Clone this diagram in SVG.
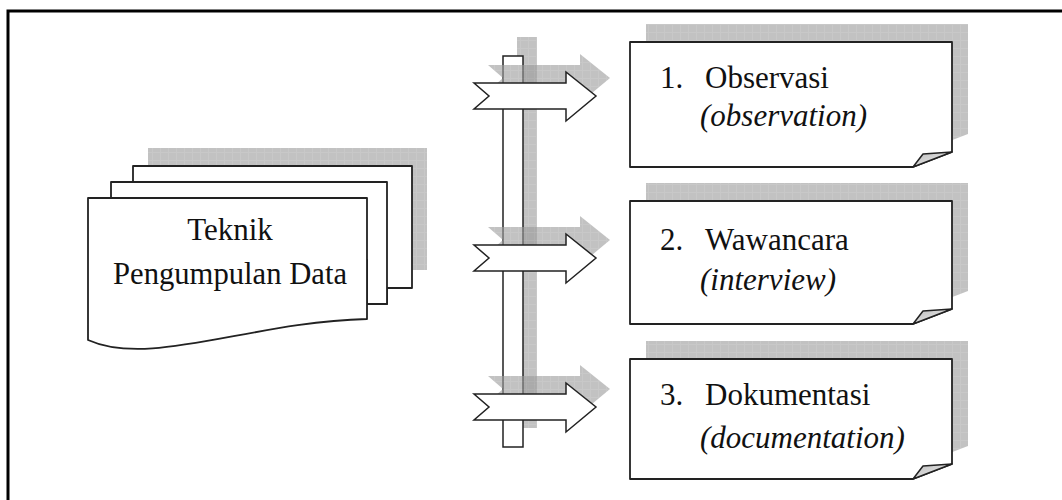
<svg xmlns="http://www.w3.org/2000/svg" width="1062" height="500" viewBox="0 0 1062 500">
<style>
.frame{fill:none;stroke:#000;stroke-width:3}
.shape{fill:#fff;stroke:#222;stroke-width:1.8;stroke-linejoin:round}
.thin{fill:#fff;stroke:#222;stroke-width:1.5;stroke-linejoin:miter}
.shadow{fill:url(#grid);opacity:0.6}
.flap{fill:url(#flapg);stroke:#222;stroke-width:1.5;stroke-linejoin:round}
.t{font-size:31px;fill:#111}
.i{font-style:italic}
</style>
<defs>
<pattern id="grid" width="8" height="8" patternUnits="userSpaceOnUse">
<rect width="8" height="8" fill="#9a9a9a"/>
<path d="M0,0.5H8M0.5,0V8" stroke="#a3a3a3" stroke-width="1"/>
</pattern>
<linearGradient id="flapg" x1="0" y1="0" x2="1" y2="1">
<stop offset="0" stop-color="#bbb"/>
<stop offset="1" stop-color="#f4f4f4"/>
</linearGradient>
<path id="arrowShape" d="M474,83 L566,83 L566,72 L596,96 L566,121 L566,109 L474,109 L489,96 Z"/>
</defs>

<rect class="frame" x="8" y="11" width="1070" height="500"/>

<g id="node-teknik">
<rect class="shadow" x="148" y="148" width="279" height="122"/>
<path class="shape" d="M133,166 H412 V288 H387 V304 H367 V250 H133 Z"/>
<path class="shape" d="M111,182 H387 V304 H367 V260 H111 Z"/>
<path class="shape" d="M88,198 H367 V319 C250,322 150,368 88,340 Z"/>
<g font-family="'Liberation Serif', 'Times New Roman', serif">
<text class="t" x="230" y="240" text-anchor="middle">Teknik</text>
<text class="t" x="230" y="284" text-anchor="middle" textLength="234" lengthAdjust="spacingAndGlyphs">Pengumpulan Data</text>
</g>
</g>

<g id="connectors">
<rect class="shadow" x="517" y="37" width="20" height="391"/>
<rect class="thin" x="503" y="56" width="20" height="391"/>
<use href="#arrowShape" class="shadow" transform="translate(14,-18)"/>
<use href="#arrowShape" class="shadow" transform="translate(14,144)"/>
<use href="#arrowShape" class="shadow" transform="translate(14,293)"/>
<use href="#arrowShape" class="thin"/>
<use href="#arrowShape" class="thin" transform="translate(0,162)"/>
<use href="#arrowShape" class="thin" transform="translate(0,311)"/>
</g>

<g id="node-observasi" font-family="'Liberation Serif', 'Times New Roman', serif">
<path class="shadow" d="M646,24 H968 V134 L929,149 H646 Z"/>
<path class="shape" d="M630,42 H952 V152 L913,167 H630 Z"/>
<path class="flap" d="M913,167 L923,154 L952,152 Z"/>
<text class="t" x="660" y="88">1.</text>
<text class="t" x="705" y="88">Observasi</text>
<text class="t i" x="700" y="126">(observation)</text>
</g>

<g id="node-wawancara" font-family="'Liberation Serif', 'Times New Roman', serif">
<path class="shadow" d="M646,183 H968 V291 L929,306 H646 Z"/>
<path class="shape" d="M630,201 H952 V309 L913,324 H630 Z"/>
<path class="flap" d="M913,324 L923,311 L952,309 Z"/>
<text class="t" x="660" y="250">2.</text>
<text class="t" x="705" y="250">Wawancara</text>
<text class="t i" x="700" y="290">(interview)</text>
</g>

<g id="node-dokumentasi" font-family="'Liberation Serif', 'Times New Roman', serif">
<path class="shadow" d="M646,341 H968 V446 L929,461 H646 Z"/>
<path class="shape" d="M630,359 H952 V464 L913,479 H630 Z"/>
<path class="flap" d="M913,479 L923,466 L952,464 Z"/>
<text class="t" x="660" y="405">3.</text>
<text class="t" x="705" y="405">Dokumentasi</text>
<text class="t i" x="700" y="448">(documentation)</text>
</g>
</svg>
